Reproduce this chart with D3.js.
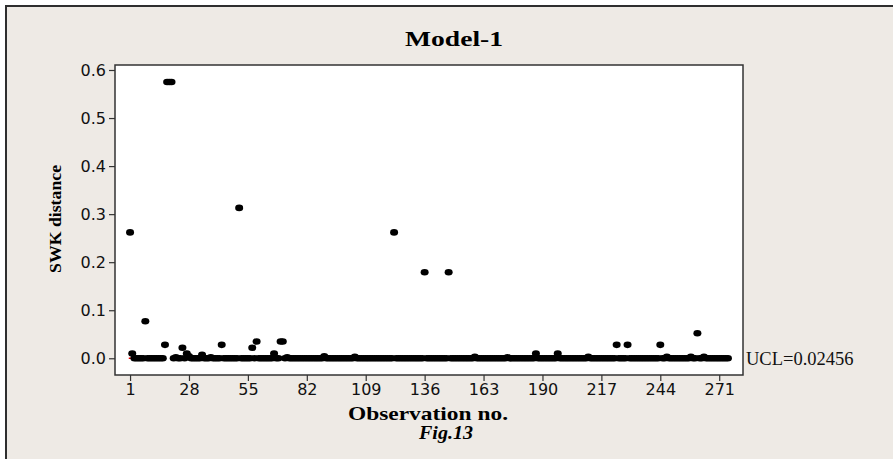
<!DOCTYPE html>
<html>
<head>
<meta charset="utf-8">
<script src="https://cdn.jsdelivr.net/npm/d3@7/dist/d3.min.js"></script>
<style>
body{margin:0;background:#fff;}
</style>
</head>
<body>
<script>
var w = 893, h = 459;

// SWK distance per observation (obs 1..275), 27 per row
var swk = [
 0.262,0.010,0,0,0,0,0,0.077,0,0,0,0,0,0,0,0,0.028,0.575,0.575,0.575,0,0.002,0,0,0.022,0,0.010,
 0.004,0,0,0,0,0,0.007,0,0,0,0.002,0,0,0,0,0.028,0,0,0,0,0,0,0,0.313,0,0,0,
 0,0,0.022,0,0.035,0,0,0,0,0,0,0,0.010,0,0,0.035,0.035,0,0.002,0,0,0,0,0,0,0,0,
 0,0,0,0,0,0,0,0,0.004,0,0,0,0,0,0,0,0,0,0,0,0,0,0.003,0,0,0,0,
 0,0,0,0,0,0,0,0,0,0,0,0,0,0.262,0,0,0,0,0,0,0,0,0,0,0,0,0,
 0.179,0,0,0,0,0,0,0,0,0,0,0.179,0,0,0,0,0,0,0,0,0,0,0,0.003,0,0,0,
 0,0,0,0,0,0,0,0,0,0,0,0.002,0,0,0,0,0,0,0,0,0,0,0,0,0.010,0,0,
 0,0,0,0,0,0,0,0.010,0,0,0,0,0,0,0,0,0,0,0,0,0,0.003,0,0,0,0,0,
 0,0,0,0,0,0,0,0.028,0,0,0,0,0.028,0,0,0,0,0,0,0,0,0,0,0,0,0,0,
 0.028,0,0,0.003,0,0,0,0,0,0,0,0,0,0,0.003,0,0,0.052,0,0,0.003,0,0,0,0,0,0,
 0,0,0,0,0
];
var xTicks = [1,28,55,82,109,136,163,190,217,244,271];
var yTicks = [0.0,0.1,0.2,0.3,0.4,0.5,0.6];
var ucl = 0.02456;

var pLeft = 115, pTop = 65, pRight = 743, pBottom = 375;
var serif = "'Liberation Serif','Times New Roman',serif";

var svg = d3.select("body")
	.append("svg")
		.attr("width",w)
		.attr("height",h);

// outer frame
svg.append("rect")
	.attr("x",6).attr("y",6)
	.attr("width",w+20).attr("height",h+20)
	.attr("fill","#eeeae5")
	.attr("stroke","#2e2e2e")
	.attr("stroke-width",2);

var x = d3.scaleLinear().domain([-5.9,281.9]).range([pLeft,pRight]);
var y = d3.scaleLinear().domain([-0.0348,0.6104]).range([pBottom,pTop]);

// plot area
svg.append("rect")
	.attr("x",pLeft).attr("y",pTop)
	.attr("width",pRight-pLeft).attr("height",pBottom-pTop)
	.attr("fill","#fff");

// red zero line, only its start shows in the original
svg.append("line")
	.attr("x1",x(0.4)).attr("x2",x(3))
	.attr("y1",y(0)).attr("y2",y(0))
	.attr("stroke","#e00000")
	.attr("stroke-width",1.5);

svg.selectAll("ellipse.pt")
	.data(swk)
	.enter()
	.append("ellipse")
		.attr("class","pt")
		.attr("cx",function(d,i){ return x(i+1); })
		.attr("cy",function(d){ return y(d); })
		.attr("rx",4)
		.attr("ry",3.3)
		.attr("fill","#000");

svg.append("rect")
	.attr("x",pLeft).attr("y",pTop)
	.attr("width",pRight-pLeft).attr("height",pBottom-pTop)
	.attr("fill","none")
	.attr("stroke","#333")
	.attr("stroke-width",1.5);

var xAxis = svg.append("g")
	.attr("transform","translate(0,"+pBottom+")")
	.call(d3.axisBottom(x).tickValues(xTicks).tickSize(6).tickSizeOuter(0));
var yAxis = svg.append("g")
	.attr("transform","translate("+pLeft+",0)")
	.call(d3.axisLeft(y).tickValues(yTicks).tickFormat(d3.format(".1f")).tickSize(6).tickSizeOuter(0));

[xAxis,yAxis].forEach(function(g){
	g.select(".domain").remove();
	g.selectAll(".tick line").attr("stroke","#333").attr("stroke-width",1.2);
	g.selectAll(".tick text")
		.attr("fill","#111")
		.style("font-family","'DejaVu Sans', Verdana, sans-serif")
		.style("font-size","16px");
});

// title
svg.append("text")
	.attr("x",454).attr("y",46)
	.attr("text-anchor","middle")
	.attr("textLength",98).attr("lengthAdjust","spacingAndGlyphs")
	.style("font-family",serif)
	.style("font-weight","bold")
	.style("font-size","22px")
	.text("Model-1");

// x label
svg.append("text")
	.attr("x",428).attr("y",420)
	.attr("text-anchor","middle")
	.attr("textLength",160).attr("lengthAdjust","spacingAndGlyphs")
	.style("font-family",serif)
	.style("font-weight","bold")
	.style("font-size","19px")
	.text("Observation no.");

svg.append("text")
	.attr("x",446).attr("y",439)
	.attr("text-anchor","middle")
	.attr("textLength",54).attr("lengthAdjust","spacingAndGlyphs")
	.style("font-family",serif)
	.style("font-weight","bold")
	.style("font-style","italic")
	.style("font-size","18px")
	.text("Fig.13");

// y label
svg.append("text")
	.attr("transform","translate(61,"+((pTop+pBottom)/2-1)+") rotate(-90)")
	.attr("text-anchor","middle")
	.attr("textLength",108).attr("lengthAdjust","spacingAndGlyphs")
	.style("font-family",serif)
	.style("font-weight","bold")
	.style("font-size","16px")
	.text("SWK distance");

// UCL label
svg.append("text")
	.attr("x",pRight+3).attr("y",y(0))
	.attr("dy","0.35em")
	.style("font-family",serif)
	.style("font-size","18.5px")
	.attr("fill","#111")
	.text("UCL="+ucl);
</script>
</body>
</html>
